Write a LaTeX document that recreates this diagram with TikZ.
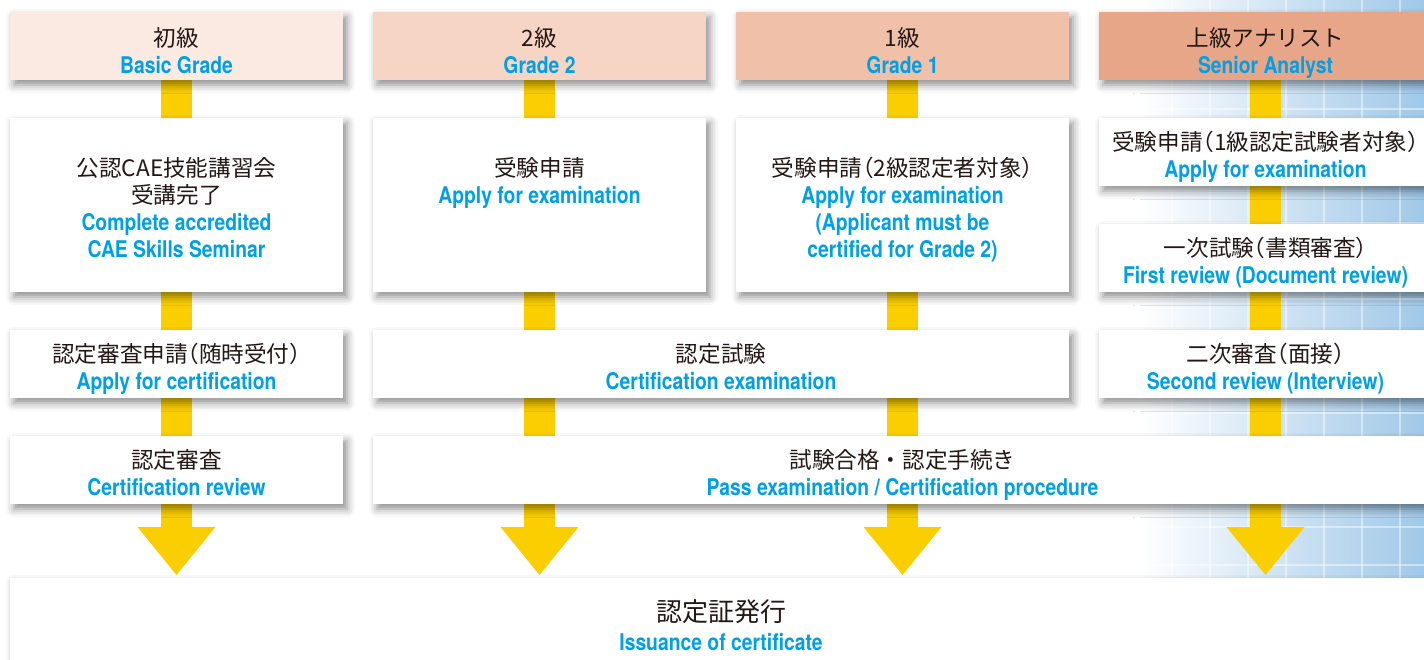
\documentclass[tikz,border=0pt]{standalone}
\usepackage{fontspec}
\setmainfont[RawFeature=+halt]{Noto Sans CJK JP}
\newfontfamily\jpfull{Noto Sans CJK JP}
\newfontfamily\enfont[FakeStretch=0.84]{TeX Gyre Heros}
\usetikzlibrary{shadows.blur}
\definecolor{jpgray}{RGB}{35,24,21}
\definecolor{enblue}{RGB}{0,160,230}
\definecolor{hdA}{RGB}{251,234,226}
\definecolor{hdB}{RGB}{246,213,196}
\definecolor{hdC}{RGB}{240,192,168}
\definecolor{hdD}{RGB}{232,166,137}
\definecolor{stemyellow}{RGB}{250,206,0}
\definecolor{gridblue}{RGB}{160,200,232}
\newcommand\en[1]{{\enfont\bfseries\fontsize{11.5}{13.5}\selectfont\color{enblue}#1\rule[-2.5pt]{0pt}{0pt}}}
\newcommand\hp{\rule{0pt}{16.5pt}}
\newcommand\tp{\rule{0pt}{14.5pt}}
\pgfdeclarelayer{grid}
\pgfdeclarelayer{stem}
\pgfsetlayers{grid,stem,main}

\begin{document}
\begin{tikzpicture}[x=0.5pt,y=-0.5pt,
    box/.style={fill=white,minimum width=166.5pt,minimum height=34pt,inner sep=0pt,
      align=center,text=jpgray,font=\fontsize{11.3}{13.5}\selectfont,
      blur shadow={shadow xshift=2pt,shadow yshift=-2.5pt,shadow blur radius=4pt,shadow opacity=45}},
    titlebox/.style={box},
    tallbox/.style={box,minimum height=87pt},
    stemline/.style={draw=stemyellow,line width=15.5pt},
    headtri/.style={fill=stemyellow},
    gridline/.style={draw=white,line width=1pt,opacity=0.45}]
  \useasboundingbox (0,0) rectangle (1424,659);

  \node[titlebox,fill=hdA] (h1) at (176.5,46) {\hp 初級\\\en{Basic Grade}};
  \node[titlebox,fill=hdB] (h2) at (539.5,46) {\hp 2級\\\en{Grade 2}};
  \node[titlebox,fill=hdC] (h3) at (902.5,46) {\hp 1級\\\en{Grade 1}};
  \node[titlebox,fill=hdD] (h4) at (1265.5,46) {\hp 上級アナリスト\\\en{Senior Analyst}};

  \node[tallbox] (r1) at (176.5,205) {\tp 公認CAE技能講習会\\受講完了\\\en{Complete accredited}\\\en{CAE Skills Seminar}};
  \node[tallbox] (r2) at (539.5,205) {\tp 受験申請\\\en{Apply for examination}\\\mbox{}\\\en{}};
  \node[tallbox] (r3) at (902.5,205) {\tp 受験申請（2級認定者対象）\\\en{Apply for examination}\\\en{(Applicant must be}\\\en{certified for Grade 2)}};
  \node[box] (s1) at (1265.5,152) {\tp 受験申請（1級認定試験者対象）\\\en{Apply for examination}};
  \node[box] (s2) at (1265.5,258) {\tp 一次試験（書類審査）\\\en{First review (Document review)}};

  \node[box] (c1) at (176.5,364) {\tp 認定審査申請（随時受付）\\\en{Apply for certification}};
  \node[box,minimum width=348pt] (c2) at (721,364) {\tp 認定試験\\\en{Certification examination}};
  \node[box] (c4) at (1265.5,364) {\tp 二次審査（面接）\\\en{Second review (Interview)}};

  \node[box] (d1) at (176.5,470) {\tp 認定審査\\\en{Certification review}};
  \node[box,minimum width=529.5pt] (d2) at (902.5,470) {\tp{\jpfull 試験合格・認定手続き}\\\en{Pass examination / Certification procedure}};

  \node[box,minimum width=711pt,minimum height=46.5pt,font=\fontsize{13}{14.5}\selectfont]
    (fin) at (721,624.5) {\rule{0pt}{14pt}認定証発行\\\en{Issuance of certificate}};

  \foreach \i/\x in {1/176.5,2/539.5,3/902.5,4/1265.5} {
    \coordinate (a\i) at (\x,527);
    \coordinate (t\i) at (\x,575);
  }

  \begin{pgfonlayer}{stem}
    \foreach \i in {1,...,4}
      \draw[stemline] (h\i.south) -- (a\i);
  \end{pgfonlayer}
  \foreach \i in {1,...,4}
    \fill[headtri] ([xshift=-19.5pt]a\i) -- (t\i) -- ([xshift=19.5pt]a\i) -- cycle;

  \begin{pgfonlayer}{grid}
    \shade[left color=white,right color=gridblue] (1140,0) rectangle (1424,578);
    \foreach \gx in {1134,1172,...,1400}
      \draw[gridline] (\gx,0) -- (\gx,578);
    \foreach \gy in {33,71,...,565}
      \draw[gridline] (1110,\gy) -- (1424,\gy);
  \end{pgfonlayer}
\end{tikzpicture}
\end{document}
